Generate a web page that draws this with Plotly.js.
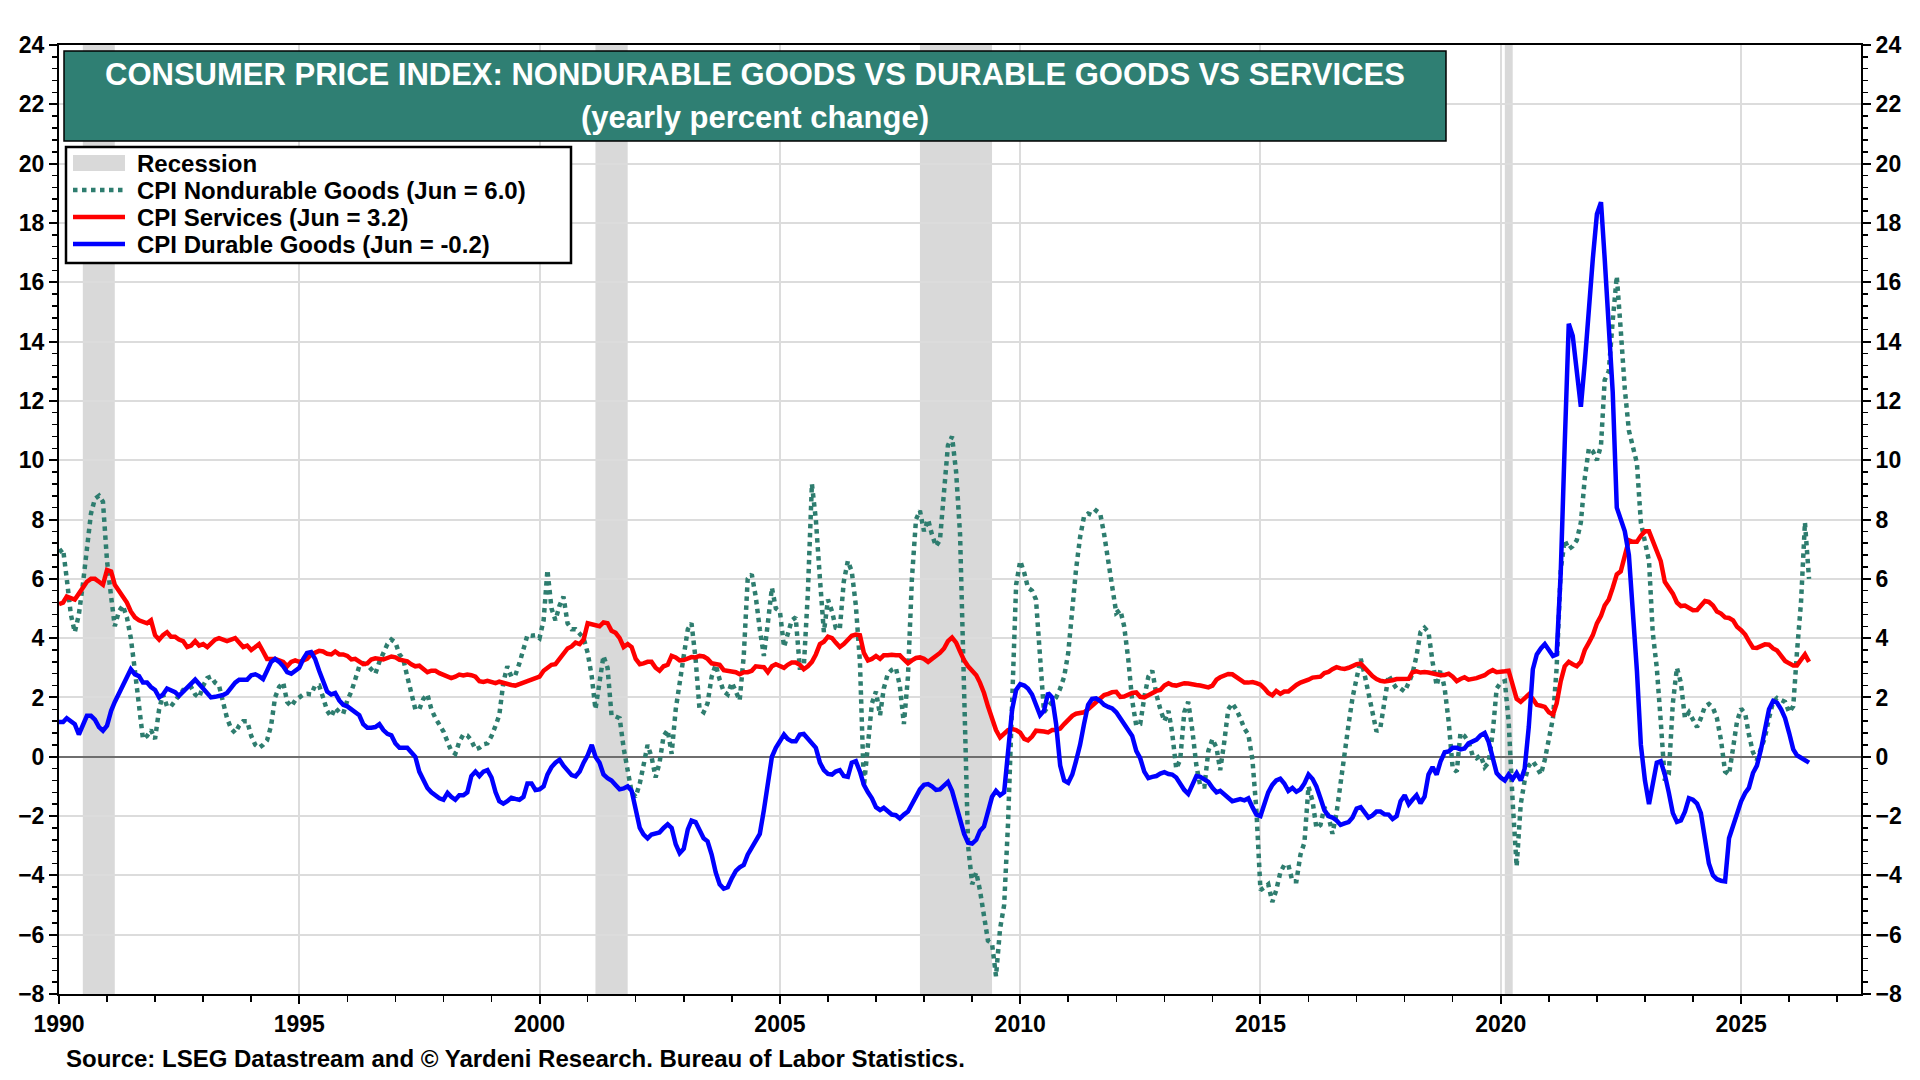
<!DOCTYPE html>
<html>
<head>
<meta charset="utf-8">
<script src="https://cdn.plot.ly/plotly-3.0.1.min.js"></script>
<style>
  html, body { margin: 0; padding: 0; background: #fff; }
  #chart { width: 1920px; height: 1080px; }
</style>
</head>
<body>
<div id="chart"></div>
<script>
// CPI yearly percent change, monthly from Jan 1990 to Jun 2026
const START_YEAR = 1990;

const nondurable = [
  6.9, 7.0, 6.0, 4.8, 4.2, 4.8, 5.8, 7.0, 8.2, 8.7, 8.8, 8.6,          // 1990
  6.6, 5.4, 4.4, 4.9, 5.1, 4.7, 4.0, 2.9, 1.7, 0.6, 0.7, 0.9,          // 1991
  0.6, 1.6, 2.1, 1.7, 1.7, 1.9, 2.1, 2.25, 2.25, 2.35, 2.1, 2.0,       // 1992
  2.4, 2.65, 2.7, 2.5, 2.4, 1.85, 1.3, 0.95, 0.8, 1.05, 1.2, 1.2,      // 1993
  0.7, 0.4, 0.3, 0.4, 0.55, 1.05, 2.0, 2.35, 2.5, 1.85, 1.7, 1.9,      // 1994
  2.0, 2.1, 2.12, 2.1, 2.4, 2.4, 2.0, 1.55, 1.35, 1.65, 1.5, 1.45,     // 1995
  1.9, 2.2, 2.6, 3.05, 3.15, 3.1, 2.95, 2.8, 3.2, 3.5, 3.8, 3.95,      // 1996
  3.85, 3.45, 3.3, 2.7, 2.1, 1.6, 1.6, 1.95, 2.1, 1.6, 1.3, 1.05,      // 1997
  0.85, 0.5, 0.2, 0.1, 0.5, 0.75, 0.72, 0.55, 0.25, 0.3, 0.42, 0.45,   // 1998
  0.7, 1.05, 1.4, 2.5, 3.05, 2.7, 2.75, 3.15, 3.6, 4.1, 4.08, 4.1,     // 1999
  4.0, 4.6, 6.3, 5.0, 4.6, 5.1, 5.4, 4.5, 4.3, 4.3, 4.15, 4.0,         // 2000
  3.5, 2.7, 1.6, 2.5, 3.4, 3.0, 1.4, 1.36, 1.3, 0.3, -0.5, -1.2,       // 2001
  -1.35, -0.9, -0.3, 0.4, 0.0, -0.7, -0.2, 0.7, 0.9, 0.1, 1.6, 2.6,    // 2002
  3.4, 4.3, 4.5, 3.3, 1.6, 1.5, 1.8, 2.7, 3.1, 2.6, 2.2, 2.1,          // 2003
  2.5, 2.2, 1.9, 3.4, 6.0, 6.15, 5.4, 4.3, 3.4, 4.5, 5.7, 5.0,         // 2004
  4.9, 3.7, 4.2, 4.6, 4.7, 3.0, 3.0, 5.5, 9.2, 8.0, 6.0, 4.2,          // 2005
  5.3, 4.9, 4.35, 4.3, 5.9, 6.6, 6.25, 5.1, 3.2, -1.0, 0.4, 1.8,       // 2006
  2.2, 1.4, 2.3, 2.8, 2.93, 3.0, 2.4, 1.1, 2.7, 6.0, 8.0, 8.3,         // 2007
  7.6, 8.0, 7.5, 7.1, 7.3, 9.0, 10.5, 10.8, 9.6, 7.5, 2.0, -3.0,       // 2008
  -4.3, -3.9, -4.5, -5.4, -6.2, -6.3, -7.4, -5.8, -5.0, -2.2, 2.5, 5.8, // 2009
  6.6, 6.2, 5.7, 5.6, 5.3, 3.5, 1.5, 1.7, 1.85, 2.0, 2.3, 2.7,         // 2010
  3.5, 5.0, 6.3, 7.4, 8.1, 8.2, 8.15, 8.3, 8.2, 7.5, 6.6, 5.6,         // 2011
  4.85, 4.95, 4.4, 3.3, 1.9, 1.05, 1.1, 2.0, 2.7, 2.9, 2.1, 1.6,       // 2012
  1.2, 1.55, 0.8, -0.4, -0.1, 1.5, 1.85, 0.9, -0.3, -1.0, -1.0, 0.2,   // 2013
  0.6, 0.3, -0.45, 0.5, 1.6, 1.8, 1.6, 1.3, 0.95, 0.75, -0.1, -1.8,    // 2014
  -4.5, -4.4, -4.3, -4.9, -4.5, -3.9, -3.65, -3.65, -4.2, -4.2, -3.3, -2.9, // 2015
  -1.0, -1.5, -2.4, -2.3, -1.7, -2.0, -2.6, -1.9, -0.8, 0.2, 1.1, 2.0, // 2016
  2.7, 3.3, 2.8, 2.2, 1.6, 0.85, 1.0, 1.9, 2.75, 2.5, 2.3, 2.3,        // 2017
  2.2, 2.5, 2.8, 3.4, 4.2, 4.35, 4.2, 3.2, 2.4, 2.95, 2.3, 1.2,        // 2018
  -0.4, -0.5, 0.8, 0.7, 0.5, 0.05, -0.05, 0.05, -0.35, -0.2, 0.8, 2.3, // 2019
  2.5, 2.55, 1.2, -1.55, -3.7, -1.6, -0.8, -0.3, -0.15, -0.35, -0.6, -0.1, // 2020
  0.55, 1.3, 3.0, 6.3, 7.3, 7.0, 7.1, 7.3, 7.9, 9.4, 10.4, 10.3,       // 2021
  10.0, 10.5, 12.7, 13.0, 14.7, 16.2, 14.4, 12.4, 11.0, 10.5, 9.9, 7.9, // 2022
  7.3, 6.6, 4.2, 3.0, 1.2, -0.8, -0.6, 1.8, 3.0, 2.5, 1.3, 1.5,        // 2023
  1.25, 1.0, 1.3, 1.7, 1.78, 1.65, 1.3, 0.56, -0.5, -0.6, 0.3, 1.2,    // 2024
  1.62, 1.45, 0.75, 0.15, -0.1, 0.3, 0.65, 1.3, 1.85, 1.98, 1.93, 1.85, // 2025
  1.5, 1.7, 3.5, 5.2, 7.9, 6.0                                          // 2026
];

const services = [
  5.15, 5.2, 5.4, 5.35, 5.3, 5.5, 5.7, 5.9, 6.0, 6.0, 5.9, 5.8,        // 1990
  6.3, 6.25, 5.8, 5.6, 5.45, 5.2, 4.9, 4.7, 4.6, 4.55, 4.5, 4.6,       // 1991
  4.1, 3.95, 4.1, 4.2, 4.05, 4.05, 3.95, 3.9, 3.7, 3.75, 3.9, 3.75,    // 1992
  3.8, 3.7, 3.8, 3.95, 4.0, 3.95, 3.9, 3.95, 4.0, 3.85, 3.7, 3.75,     // 1993
  3.6, 3.7, 3.8, 3.55, 3.3, 3.3, 3.3, 3.25, 3.2, 3.05, 3.2, 3.25,      // 1994
  3.2, 3.25, 3.3, 3.45, 3.52, 3.57, 3.55, 3.47, 3.45, 3.55, 3.45, 3.45, // 1995
  3.4, 3.28, 3.3, 3.22, 3.12, 3.15, 3.28, 3.32, 3.3, 3.28, 3.33, 3.38, // 1996
  3.35, 3.27, 3.25, 3.22, 3.12, 3.05, 3.07, 2.95, 2.85, 2.9, 2.9, 2.82, // 1997
  2.75, 2.68, 2.65, 2.7, 2.77, 2.74, 2.77, 2.75, 2.7, 2.55, 2.52, 2.56, // 1998
  2.52, 2.48, 2.53, 2.48, 2.44, 2.42, 2.4, 2.45, 2.48, 2.55, 2.6, 2.65, // 1999
  2.7, 2.9, 3.0, 3.1, 3.12, 3.3, 3.5, 3.65, 3.72, 3.85, 3.8, 3.95,     // 2000
  4.5, 4.47, 4.42, 4.4, 4.53, 4.5, 4.25, 4.18, 4.0, 3.7, 3.8, 3.7,     // 2001
  3.3, 3.12, 3.15, 3.2, 3.2, 3.0, 2.9, 3.05, 3.1, 3.4, 3.35, 3.25,     // 2002
  3.26, 3.3, 3.36, 3.35, 3.4, 3.38, 3.3, 3.15, 3.13, 3.1, 2.92, 2.9,   // 2003
  2.88, 2.85, 2.78, 2.85, 2.85, 2.9, 3.05, 3.05, 3.02, 2.85, 3.05, 3.12, // 2004
  3.05, 3.0, 3.1, 3.18, 3.18, 3.1, 2.95, 3.05, 3.2, 3.45, 3.8, 3.88,   // 2005
  4.05, 4.0, 3.85, 3.7, 3.8, 3.95, 4.08, 4.12, 4.1, 3.5, 3.25, 3.3,    // 2006
  3.4, 3.3, 3.42, 3.42, 3.44, 3.42, 3.42, 3.28, 3.15, 3.25, 3.33, 3.35, // 2007
  3.3, 3.2, 3.3, 3.37, 3.5, 3.65, 3.9, 4.02, 3.85, 3.55, 3.25, 3.05,   // 2008
  2.9, 2.75, 2.5, 2.15, 1.7, 1.25, 0.9, 0.65, 0.8, 0.9, 0.93, 0.9,     // 2009
  0.81, 0.6, 0.55, 0.68, 0.88, 0.88, 0.85, 0.82, 0.9, 0.9, 0.95, 1.1,  // 2010
  1.25, 1.38, 1.45, 1.48, 1.5, 1.6, 1.72, 1.87, 2.0, 2.08, 2.12, 2.18, // 2011
  2.19, 2.02, 2.03, 2.1, 2.15, 2.17, 2.02, 2.0, 2.08, 2.17, 2.22, 2.25, // 2012
  2.4, 2.48, 2.42, 2.4, 2.45, 2.48, 2.47, 2.46, 2.42, 2.4, 2.38, 2.34, // 2013
  2.4, 2.6, 2.68, 2.75, 2.79, 2.78, 2.7, 2.6, 2.5, 2.5, 2.52, 2.48,    // 2014
  2.43, 2.3, 2.15, 2.07, 2.22, 2.12, 2.2, 2.2, 2.32, 2.42, 2.5, 2.54,  // 2015
  2.6, 2.67, 2.69, 2.7, 2.82, 2.86, 2.95, 3.02, 2.98, 2.96, 3.0, 3.08, // 2016
  3.12, 3.14, 3.0, 2.85, 2.72, 2.62, 2.56, 2.54, 2.55, 2.58, 2.62, 2.62, // 2017
  2.62, 2.63, 2.85, 2.88, 2.84, 2.86, 2.84, 2.8, 2.76, 2.75, 2.76, 2.8, // 2018
  2.7, 2.55, 2.62, 2.68, 2.6, 2.62, 2.65, 2.7, 2.75, 2.85, 2.92, 2.85, // 2019
  2.85, 2.88, 2.9, 2.4, 1.95, 1.85, 2.0, 2.1, 1.95, 1.75, 1.72, 1.68,  // 2020
  1.5, 1.42, 1.8, 2.55, 3.05, 3.2, 3.12, 3.05, 3.2, 3.6, 3.85, 4.1,    // 2021
  4.5, 4.75, 5.1, 5.3, 5.7, 6.15, 6.25, 6.8, 7.3, 7.25, 7.25, 7.45,    // 2022
  7.6, 7.6, 7.3, 7.0, 6.6, 5.9, 5.72, 5.5, 5.2, 5.08, 5.1, 5.0,        // 2023
  4.94, 4.95, 5.1, 5.25, 5.22, 5.1, 4.9, 4.83, 4.7, 4.68, 4.6, 4.38,   // 2024
  4.27, 4.12, 3.9, 3.68, 3.67, 3.72, 3.79, 3.78, 3.65, 3.58, 3.4, 3.23, // 2025
  3.15, 3.08, 3.08, 3.3, 3.45, 3.2                                      // 2026
];

const durable = [
  1.17, 1.17, 1.3, 1.18, 1.1, 0.75, 1.05, 1.38, 1.38, 1.25, 1.0, 0.88, // 1990
  1.05, 1.55, 1.85, 2.15, 2.4, 2.65, 2.95, 2.78, 2.72, 2.5, 2.5, 2.35, // 1991
  2.25, 2.0, 2.1, 2.3, 2.22, 2.18, 2.05, 2.2, 2.35, 2.5, 2.6, 2.45,    // 1992
  2.3, 2.12, 2.0, 2.02, 2.05, 2.08, 2.15, 2.35, 2.5, 2.6, 2.6, 2.6,    // 1993
  2.75, 2.78, 2.72, 2.62, 2.9, 3.2, 3.3, 3.2, 3.05, 2.85, 2.8, 2.9,    // 1994
  3.0, 3.3, 3.5, 3.53, 3.3, 2.9, 2.5, 2.2, 2.1, 2.15, 1.9, 1.75,       // 1995
  1.7, 1.6, 1.5, 1.4, 1.1, 0.98, 0.98, 1.0, 1.1, 0.9, 0.77, 0.72,      // 1996
  0.45, 0.3, 0.3, 0.3, 0.15, 0.0, -0.5, -0.8, -1.05, -1.2, -1.3, -1.4, // 1997
  -1.45, -1.22, -1.35, -1.45, -1.3, -1.3, -1.2, -0.65, -0.5, -0.65, -0.5, -0.45, // 1998
  -0.7, -1.2, -1.5, -1.58, -1.5, -1.38, -1.42, -1.45, -1.35, -0.9, -0.9, -1.12, // 1999
  -1.1, -1.0, -0.6, -0.35, -0.2, -0.1, -0.3, -0.45, -0.62, -0.66, -0.5, -0.2, // 2000
  0.05, 0.4, 0.0, -0.2, -0.6, -0.72, -0.8, -0.95, -1.1, -1.07, -1.0, -1.15, // 2001
  -1.8, -2.4, -2.62, -2.75, -2.62, -2.58, -2.55, -2.4, -2.28, -2.4, -2.95, -3.25, // 2002
  -3.1, -2.45, -2.15, -2.2, -2.5, -2.75, -2.85, -3.3, -3.9, -4.3, -4.45, -4.4, // 2003
  -4.1, -3.85, -3.73, -3.65, -3.3, -3.05, -2.85, -2.6, -1.8, -0.8, 0.0, 0.3, // 2004
  0.55, 0.75, 0.6, 0.52, 0.52, 0.75, 0.77, 0.6, 0.45, 0.3, -0.2, -0.45, // 2005
  -0.58, -0.6, -0.5, -0.45, -0.65, -0.68, -0.2, -0.15, -0.5, -0.95, -1.2, -1.4, // 2006
  -1.7, -1.8, -1.72, -1.85, -1.95, -1.97, -2.08, -1.95, -1.85, -1.6, -1.3, -1.1, // 2007
  -0.95, -0.92, -1.0, -1.12, -1.1, -0.95, -0.85, -1.15, -1.6, -2.05, -2.6, -2.9, // 2008
  -2.93, -2.8, -2.5, -2.35, -1.9, -1.35, -1.15, -1.3, -1.2, 0.3, 1.6, 2.25, // 2009
  2.45, 2.4, 2.3, 2.1, 1.75, 1.4, 1.55, 2.15, 2.0, 1.1, -0.3, -0.8,    // 2010
  -0.88, -0.6, -0.15, 0.4, 1.1, 1.75, 1.95, 1.97, 1.88, 1.75, 1.68, 1.63, // 2011
  1.5, 1.3, 1.1, 0.9, 0.7, 0.2, -0.05, -0.5, -0.72, -0.68, -0.65, -0.57, // 2012
  -0.52, -0.58, -0.6, -0.7, -0.92, -1.12, -1.25, -0.9, -0.65, -0.68, -0.78, -0.85, // 2013
  -1.05, -1.2, -1.15, -1.25, -1.38, -1.5, -1.45, -1.43, -1.47, -1.4, -1.7, -1.95, // 2014
  -2.0, -1.6, -1.2, -0.95, -0.8, -0.74, -0.9, -1.15, -1.05, -1.18, -1.1, -0.9, // 2015
  -0.6, -0.75, -1.0, -1.4, -1.8, -2.0, -2.05, -2.15, -2.3, -2.25, -2.2, -2.05, // 2016
  -1.75, -1.7, -1.9, -2.05, -1.98, -1.85, -1.85, -1.94, -1.95, -2.1, -2.0, -1.5, // 2017
  -1.3, -1.6, -1.45, -1.3, -1.57, -1.35, -0.6, -0.35, -0.6, -0.15, 0.15, 0.18, // 2018
  0.3, 0.3, 0.25, 0.28, 0.45, 0.5, 0.58, 0.72, 0.8, 0.5, -0.05, -0.55, // 2019
  -0.7, -0.8, -0.6, -0.75, -0.55, -0.8, -0.4, 1.0, 2.95, 3.45, 3.65, 3.8, // 2020
  3.6, 3.4, 3.45, 6.2, 10.5, 14.6, 14.2, 12.9, 11.8, 13.3, 15.2, 16.8, // 2021
  18.3, 18.7, 16.8, 14.5, 12.3, 8.4, 7.95, 7.6, 6.8, 4.9, 2.9, 0.4,    // 2022
  -0.8, -1.6, -0.9, -0.2, -0.15, -0.6, -1.2, -1.9, -2.2, -2.15, -1.85, -1.4, // 2023
  -1.45, -1.58, -1.9, -2.9, -3.6, -4.0, -4.13, -4.18, -4.2, -2.75, -2.35, -2.0, // 2024
  -1.5, -1.22, -1.05, -0.55, -0.3, 0.25, 0.9, 1.6, 1.88, 1.82, 1.6, 1.3, // 2025
  0.8, 0.25, 0.05, -0.05, -0.12, -0.2                                   // 2026
];

// NBER recessions
const recStart = ['1990-07-01', '2001-03-01', '2007-12-01', '2020-02-01'];
const recEnd   = ['1991-03-01', '2001-11-01', '2009-06-01', '2020-04-01'];

const yTicks = [-8, -6, -4, -2, 0, 2, 4, 6, 8, 10, 12, 14, 16, 18, 20, 22, 24];

const legendNames = [
    'Recession',
    'CPI Nondurable Goods (Jun = 6.0)',
    'CPI Services (Jun = 3.2)',
    'CPI Durable Goods (Jun = -0.2)',
];

const months = nondurable.map((_, i) => {
    const y = START_YEAR + Math.floor(i / 12);
    const m = String(i % 12 + 1).padStart(2, '0');
    return `${y}-${m}-01`;
});

const FONT = 'Arial, "Liberation Sans", sans-serif';
const TEAL = '#2E7D6F';
const BOX_GREEN = '#2F7F73';
const REC_GREY = '#D9D9D9';
const W = 1920, H = 1080;
const M = { l: 59, r: 59, t: 45, b: 86 };

// pixel -> paper helpers, for the boxes drawn over the plot
const px = x => (x - M.l) / (W - M.l - M.r);
const py = y => (H - M.b - y) / (H - M.t - M.b);

const seriesStyle = [
    { color: TEAL, width: 4.5, dash: 'dot' },
    { color: '#FF0000', width: 4.5 },
    { color: '#0000FF', width: 4.5 },
];

const traces = [nondurable, services, durable].map((vals, i) => ({
    x: months, y: vals, type: 'scatter', mode: 'lines',
    name: legendNames[i + 1], line: seriesStyle[i], showlegend: false,
}));
// right axis carrier
traces.push({ x: [months[0]], y: [null], yaxis: 'y2', type: 'scatter', mode: 'lines', showlegend: false });

const recShapes = recStart.map((s, i) => ({
    type: 'rect', xref: 'x', yref: 'paper', x0: s, x1: recEnd[i], y0: 0, y1: 1,
    fillcolor: REC_GREY, line: { width: 0 }, layer: 'below',
}));

// title box + legend box
const rowY = [163, 190, 217, 244];
const boxShapes = [
    { type: 'rect', xref: 'paper', yref: 'paper', x0: px(64), x1: px(1446), y0: py(141), y1: py(51),
      fillcolor: BOX_GREEN, line: { color: '#000', width: 1.5 }, layer: 'above' },
    { type: 'rect', xref: 'paper', yref: 'paper', x0: px(66), x1: px(571), y0: py(263), y1: py(147),
      fillcolor: '#fff', line: { color: '#000', width: 2.5 }, layer: 'above' },
    { type: 'rect', xref: 'paper', yref: 'paper', x0: px(73), x1: px(125), y0: py(rowY[0] + 8), y1: py(rowY[0] - 8),
      fillcolor: REC_GREY, line: { width: 0 }, layer: 'above' },
].concat(seriesStyle.map((st, i) => ({
    type: 'line', xref: 'paper', yref: 'paper', x0: px(73), x1: px(125), y0: py(rowY[i + 1]), y1: py(rowY[i + 1]),
    line: st, layer: 'above',
})));

const legendText = legendNames.map((t, i) => ({
    xref: 'paper', yref: 'paper', x: px(135), y: py(rowY[i]), xanchor: 'left', yanchor: 'middle',
    text: t, showarrow: false, font: { family: FONT, size: 24, color: '#000', weight: 'bold' },
}));

const tickFont = { family: FONT, size: 23, color: '#000', weight: 'bold' };

const yAxisBase = {
    range: [-8, 24], tickvals: yTicks, ticks: 'outside', ticklen: 8, tickwidth: 2,
    tickcolor: '#000', showline: true, linecolor: '#000', linewidth: 2,
    tickfont: tickFont,
    minor: { dtick: 0.4, ticks: 'outside', ticklen: 5, tickwidth: 1.5, tickcolor: '#000', showgrid: false },
    fixedrange: true,
};

const layout = {
    width: W, height: H, margin: M,
    paper_bgcolor: '#fff', plot_bgcolor: '#fff',
    font: { family: FONT, color: '#000' },
    showlegend: false,
    xaxis: {
        type: 'date', range: ['1990-01-01', '2027-07-01'],
        tick0: '1990-01-01', dtick: 'M60', tickformat: '%Y',
        ticks: 'outside', ticklen: 8, tickwidth: 2, tickcolor: '#000',
        showline: true, linecolor: '#000', linewidth: 2, mirror: true,
        showgrid: true, gridcolor: '#DCDCDC', gridwidth: 2,
        tickfont: tickFont,
        minor: { dtick: 'M12', ticks: 'outside', ticklen: 6, tickwidth: 1.5, tickcolor: '#000', showgrid: false },
        fixedrange: true,
    },
    yaxis: Object.assign({}, yAxisBase, {
        side: 'left', showgrid: true, gridcolor: '#DCDCDC', gridwidth: 2,
        zeroline: true, zerolinecolor: '#6E6E6E', zerolinewidth: 2,
    }),
    yaxis2: Object.assign({}, yAxisBase, {
        side: 'right', overlaying: 'y', showgrid: false, zeroline: false,
    }),
    shapes: recShapes.concat(boxShapes),
    annotations: [
        {
            xref: 'paper', yref: 'paper', x: px(755), y: py(75), xanchor: 'center', yanchor: 'middle',
            text: 'CONSUMER PRICE INDEX: NONDURABLE GOODS VS DURABLE GOODS VS SERVICES',
            showarrow: false, font: { family: FONT, size: 31, color: '#fff', weight: 'bold' },
        },
        {
            xref: 'paper', yref: 'paper', x: px(755), y: py(118), xanchor: 'center', yanchor: 'middle',
            text: '(yearly percent change)',
            showarrow: false, font: { family: FONT, size: 31, color: '#fff', weight: 'bold' },
        },
        {
            xref: 'paper', yref: 'paper', x: px(64), y: py(1058), xanchor: 'left', yanchor: 'middle',
            text: 'Source: LSEG Datastream and © Yardeni Research. Bureau of Labor Statistics.',
            showarrow: false, font: { family: FONT, size: 24, color: '#000', weight: 'bold' },
        },
    ].concat(legendText),
    hovermode: false,
};

Plotly.newPlot('chart', traces, layout, { displayModeBar: false, staticPlot: true });
</script>
</body>
</html>
